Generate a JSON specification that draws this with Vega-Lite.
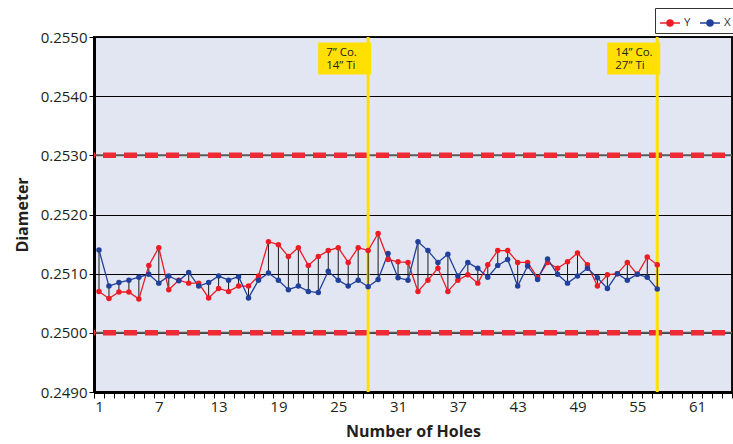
{
  "$schema": "https://vega.github.io/schema/vega-lite/v6.json",
  "width": 638,
  "height": 355,
  "autosize": {"type": "none"},
  "padding": {"left": 94, "top": 37, "right": 1, "bottom": 52},
  "background": "white",
  "config": {
    "font": "Open Sans",
    "view": {"fill": "#E2E6F3", "stroke": "#111111", "strokeWidth": 2},
    "axis": {"labelFont": "Open Sans", "titleFont": "Open Sans", "labelColor": "#231F20", "titleColor": "#231F20"}
  },
  "datasets": {
    "holes": [
      {"n": 1, "Y": 0.25070, "X": 0.25140},
      {"n": 2, "Y": 0.25058, "X": 0.25079},
      {"n": 3, "Y": 0.25069, "X": 0.25085},
      {"n": 4, "Y": 0.25069, "X": 0.25089},
      {"n": 5, "Y": 0.25057, "X": 0.25094},
      {"n": 6, "Y": 0.25114, "X": 0.25099},
      {"n": 7, "Y": 0.25144, "X": 0.25084},
      {"n": 8, "Y": 0.25073, "X": 0.25096},
      {"n": 9, "Y": 0.25089, "X": 0.25088},
      {"n": 10, "Y": 0.25084, "X": 0.25102},
      {"n": 11, "Y": 0.25084, "X": 0.25079},
      {"n": 12, "Y": 0.25059, "X": 0.25085},
      {"n": 13, "Y": 0.25075, "X": 0.25096},
      {"n": 14, "Y": 0.25070, "X": 0.25089},
      {"n": 15, "Y": 0.25079, "X": 0.25095},
      {"n": 16, "Y": 0.25079, "X": 0.25059},
      {"n": 17, "Y": 0.25096, "X": 0.25089},
      {"n": 18, "Y": 0.25154, "X": 0.25101},
      {"n": 19, "Y": 0.25149, "X": 0.25089},
      {"n": 20, "Y": 0.25129, "X": 0.25073},
      {"n": 21, "Y": 0.25144, "X": 0.25079},
      {"n": 22, "Y": 0.25114, "X": 0.25070},
      {"n": 23, "Y": 0.25129, "X": 0.25068},
      {"n": 24, "Y": 0.25139, "X": 0.25104},
      {"n": 25, "Y": 0.25144, "X": 0.25089},
      {"n": 26, "Y": 0.25119, "X": 0.25079},
      {"n": 27, "Y": 0.25144, "X": 0.25089},
      {"n": 28, "Y": 0.25139, "X": 0.25078},
      {"n": 29, "Y": 0.25168, "X": 0.25090},
      {"n": 30, "Y": 0.25124, "X": 0.25134},
      {"n": 31, "Y": 0.25120, "X": 0.25093},
      {"n": 32, "Y": 0.25119, "X": 0.25089},
      {"n": 33, "Y": 0.25070, "X": 0.25154},
      {"n": 34, "Y": 0.25089, "X": 0.25139},
      {"n": 35, "Y": 0.25109, "X": 0.25119},
      {"n": 36, "Y": 0.25070, "X": 0.25133},
      {"n": 37, "Y": 0.25089, "X": 0.25096},
      {"n": 38, "Y": 0.25098, "X": 0.25119},
      {"n": 39, "Y": 0.25084, "X": 0.25109},
      {"n": 40, "Y": 0.25115, "X": 0.25094},
      {"n": 41, "Y": 0.25139, "X": 0.25114},
      {"n": 42, "Y": 0.25139, "X": 0.25124},
      {"n": 43, "Y": 0.25119, "X": 0.25079},
      {"n": 44, "Y": 0.25119, "X": 0.25113},
      {"n": 45, "Y": 0.25093, "X": 0.25090},
      {"n": 46, "Y": 0.25119, "X": 0.25125},
      {"n": 47, "Y": 0.25109, "X": 0.25099},
      {"n": 48, "Y": 0.25120, "X": 0.25084},
      {"n": 49, "Y": 0.25135, "X": 0.25096},
      {"n": 50, "Y": 0.25115, "X": 0.25109},
      {"n": 51, "Y": 0.25079, "X": 0.25093},
      {"n": 52, "Y": 0.25098, "X": 0.25075},
      {"n": 53, "Y": 0.25100, "X": 0.25100},
      {"n": 54, "Y": 0.25119, "X": 0.25089},
      {"n": 55, "Y": 0.25099, "X": 0.25099},
      {"n": 56, "Y": 0.25128, "X": 0.25094},
      {"n": 57, "Y": 0.25115, "X": 0.25074}
    ],
    "limits": [{"limit": 0.253}, {"limit": 0.25}],
    "notes": [
      {"hole": 28, "note": "7” Co.\n14” Ti"},
      {"hole": 57, "note": "14” Co.\n27” Ti"}
    ]
  },
  "layer": [
    {
      "data": {"name": "limits"},
      "mark": {"type": "rule", "color": "#5A5A5A", "strokeWidth": 2},
      "encoding": {
        "y": {
          "field": "limit", "type": "quantitative",
          "scale": {"domain": [0.249, 0.255], "nice": false, "zero": false},
          "axis": {
            "title": "Diameter",
            "values": [0.249, 0.25, 0.251, 0.252, 0.253, 0.254, 0.255],
            "tickCount": 20,
            "format": ".4f",
            "grid": true, "gridColor": "#000000", "gridWidth": 1,
            "domainColor": "#000000", "domainWidth": 3,
            "tickColor": "#000000", "tickSize": 5, "tickWidth": 1,
            "labelFontSize": 15, "labelPadding": 2,
            "titleFontSize": 16, "titleFontWeight": "bold", "titlePadding": 10
          }
        }
      }
    },
    {
      "data": {"name": "limits"},
      "mark": {"type": "rule", "color": "#EE2A35", "strokeWidth": 5.5, "strokeDash": [13, 8], "strokeDashOffset": 14},
      "encoding": {
        "y": {"field": "limit", "type": "quantitative"}
      }
    },
    {
      "data": {"name": "notes"},
      "mark": {"type": "rule", "color": "#FFE000", "strokeWidth": 3},
      "encoding": {
        "x": {"field": "hole", "type": "quantitative"},
        "y": {"datum": 0.249, "type": "quantitative"},
        "y2": {"datum": 0.255}
      }
    },
    {
      "data": {"name": "holes"},
      "mark": {"type": "rule", "color": "#1A1A1A", "strokeWidth": 1},
      "encoding": {
        "x": {
          "field": "n", "type": "quantitative",
          "scale": {"domain": [0.5, 64.5], "nice": false, "zero": false},
          "axis": {
            "title": "Number of Holes",
            "values": [0.5, 1, 1.5, 2, 2.5, 3, 3.5, 4, 4.5, 5, 5.5, 6, 6.5, 7, 7.5, 8, 8.5, 9, 9.5, 10, 10.5, 11, 11.5, 12, 12.5, 13, 13.5, 14, 14.5, 15, 15.5, 16, 16.5, 17, 17.5, 18, 18.5, 19, 19.5, 20, 20.5, 21, 21.5, 22, 22.5, 23, 23.5, 24, 24.5, 25, 25.5, 26, 26.5, 27, 27.5, 28, 28.5, 29, 29.5, 30, 30.5, 31, 31.5, 32, 32.5, 33, 33.5, 34, 34.5, 35, 35.5, 36, 36.5, 37, 37.5, 38, 38.5, 39, 39.5, 40, 40.5, 41, 41.5, 42, 42.5, 43, 43.5, 44, 44.5, 45, 45.5, 46, 46.5, 47, 47.5, 48, 48.5, 49, 49.5, 50, 50.5, 51, 51.5, 52, 52.5, 53, 53.5, 54, 54.5, 55, 55.5, 56, 56.5, 57, 57.5, 58, 58.5, 59, 59.5, 60, 60.5, 61, 61.5, 62, 62.5, 63, 63.5, 64, 64.5],
            "tickCount": 200,
            "labelExpr": "datum.value % 6 == 1 ? '' + datum.value : ''",
            "labelOverlap": false,
            "grid": false,
            "domainColor": "#000000", "domainWidth": 3,
            "tickColor": "#000000", "tickSize": 6, "tickWidth": 1,
            "tickOpacity": {"condition": {"test": "datum.value % 1 == 0", "value": 0}, "value": 1},
            "labelFontSize": 15, "labelPadding": 1,
            "titleFontSize": 16, "titleFontWeight": "bold", "titlePadding": 9
          }
        },
        "y": {"field": "X", "type": "quantitative"},
        "y2": {"field": "Y"}
      }
    },
    {
      "data": {"name": "holes"},
      "transform": [{"fold": ["Y", "X"], "as": ["series", "val"]}],
      "mark": {"type": "line", "strokeWidth": 1.3},
      "encoding": {
        "x": {"field": "n", "type": "quantitative"},
        "y": {"field": "val", "type": "quantitative"},
        "color": {
          "field": "series", "type": "nominal",
          "scale": {"domain": ["Y", "X"], "range": ["#ED1C24", "#21409A"]},
          "legend": {
            "title": null, "orient": "none", "legendX": 561, "legendY": -29,
            "direction": "horizontal",
            "strokeColor": "#333333", "padding": 4,
            "symbolType": "M-1,0L1,0M-0.3,0A0.3,0.3,0,1,1,0.3,0A0.3,0.3,0,1,1,-0.3,0Z",
            "symbolSize": 400, "symbolStrokeWidth": 1.5,
            "labelFontSize": 11.5, "labelColor": "#333333", "labelOffset": 3, "columnPadding": 6,
            "encode": {"symbols": {"update": {"fill": {"scale": "color", "field": "value"}, "stroke": {"scale": "color", "field": "value"}}}}
          }
        }
      }
    },
    {
      "data": {"name": "holes"},
      "transform": [{"fold": ["Y", "X"], "as": ["series", "val"]}],
      "mark": {"type": "circle", "size": 30, "opacity": 1},
      "encoding": {
        "x": {"field": "n", "type": "quantitative"},
        "y": {"field": "val", "type": "quantitative"},
        "color": {
          "field": "series", "type": "nominal",
          "legend": {
            "title": null, "orient": "none", "legendX": 561, "legendY": -29,
            "direction": "horizontal",
            "strokeColor": "#333333", "padding": 4,
            "symbolType": "M-1,0L1,0M-0.3,0A0.3,0.3,0,1,1,0.3,0A0.3,0.3,0,1,1,-0.3,0Z",
            "symbolSize": 400, "symbolStrokeWidth": 1.5,
            "labelFontSize": 11.5, "labelColor": "#333333", "labelOffset": 3, "columnPadding": 6,
            "encode": {"symbols": {"update": {"fill": {"scale": "color", "field": "value"}, "stroke": {"scale": "color", "field": "value"}}}}
          }
        }
      }
    },
    {
      "data": {"name": "notes"},
      "mark": {"type": "rect", "color": "#FFE000", "xOffset": -50, "x2Offset": 3, "yOffset": 5.6, "y2Offset": 37.6},
      "encoding": {
        "x": {"field": "hole", "type": "quantitative"},
        "x2": {"field": "hole"},
        "y": {"datum": 0.255, "type": "quantitative"},
        "y2": {"datum": 0.255}
      }
    },
    {
      "data": {"name": "notes"},
      "mark": {"type": "text", "align": "left", "baseline": "top", "lineBreak": "\n", "lineHeight": 13.5, "fontSize": 11.5, "color": "#231F20", "xOffset": -42, "yOffset": 9.5},
      "encoding": {
        "x": {"field": "hole", "type": "quantitative"},
        "y": {"datum": 0.255, "type": "quantitative"},
        "text": {"field": "note"}
      }
    }
  ]
}
